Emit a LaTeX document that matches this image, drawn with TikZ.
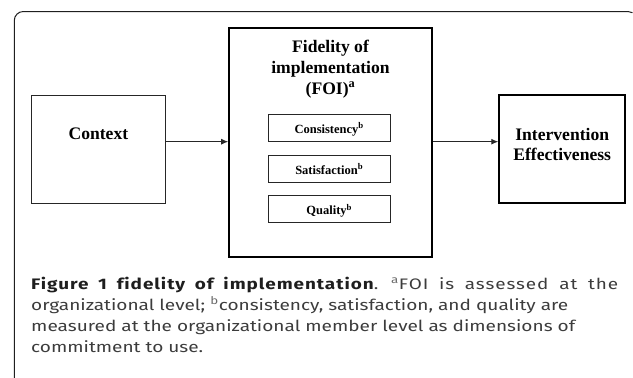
\documentclass[tikz,border=0pt]{standalone}
\usepackage{fontspec}
\setmainfont{Liberation Serif}
\newfontfamily\capfont{Fira Sans}
\newfontfamily\capfontls{Fira Sans}[LetterSpace=5, WordSpace=1.8, Ligatures=NoCommon]
\usetikzlibrary{arrows.meta}
\definecolor{captext}{HTML}{3C3C3C}
\definecolor{captitle}{HTML}{1E1E1E}
\definecolor{capsup}{HTML}{6A6A6A}
\newlength\capw
\newcommand\capsz{\capfont\fontsize{15.2}{20}\selectfont}
\newcommand\capszls{\capfontls\fontsize{15.2}{20}\selectfont}
\begin{document}
\settowidth\capw{\capsz measured at the organizational member level as dimensions of}%
\pgfmathsetmacro\capfac{544/\capw}%
\begin{tikzpicture}[x=1pt,y=-1pt,
  frame/.style={draw=black!88, line width=1pt},
  thinbox/.style={draw=black!85, line width=1pt, inner sep=0pt},
  thickbox/.style={draw=black, line width=2.2pt, inner sep=0pt},
  bigtext/.style={font=\fontsize{17.6}{21}\selectfont\bfseries, inner sep=0pt, anchor=base},
  smallbox/.style={thinbox, minimum width=121.7pt, minimum height=27pt,
     font=\fontsize{12.5}{14}\selectfont\bfseries, text height=11.2pt, text depth=0pt},
  conn/.style={draw=black!85, line width=1pt, -{Latex[length=7pt,width=6pt]}},
  capline/.style={font=\capsz, text=captext, inner sep=0pt, anchor=base west}
]
\useasboundingbox (0,0) rectangle (633,378);
% outer frame
\draw[frame] (14.3,378) -- (14.3,20.5) arc[start angle=180,end angle=270,radius=9]
  -- (628,11.5) arc[start angle=270,end angle=300,radius=9];
% boxes
\node[thinbox, minimum width=134.7pt, minimum height=108.3pt] (ctx) at (98.4,149.2) {};
\node[thickbox, minimum width=202.4pt, minimum height=229pt] (foi) at (330.5,142.8) {};
\node[thickbox, minimum width=125.7pt, minimum height=108.3pt] (eff) at (562.2,149.2) {};
% labels
\node[bigtext] (ctxl) at (98.4,139.3) {Context};
\node[bigtext] (foil1) at (330.5,52.3) {Fidelity of};
\node[bigtext] (foil2) at (330.5,73) {implementation};
\node[bigtext] (foil3) at (330.5,94) {(FOI)\textsuperscript{a}};
\node[bigtext] (effl1) at (562.2,140) {Intervention};
\node[bigtext] (effl2) at (562.2,160) {Effectiveness};
% inner boxes
\node[smallbox] (cons) at (329.2,127.7) {Consistency\textsuperscript{b}};
\node[smallbox] (sat) at (329.2,168.7) {Satisfaction\textsuperscript{b}};
\node[smallbox] (qual) at (329.2,209.2) {Quality\textsuperscript{b}};
% connectors
\draw[conn] (ctx.east |- 0,141.7) coordinate (c1) -- (foi.west |- c1);
\draw[conn] (foi.east |- 0,141.7) coordinate (c2) -- (eff.west |- c2);
% caption
\node[capline] (cap1) at (31,289) {\resizebox{587pt}{\height}{\capszls\textcolor{captitle}{\bfseries Figure 1 fidelity of implementation}. \textcolor{capsup}{\textsuperscript{a}}FOI is assessed at the}};
\node[capline] (cap2) at (31,310) {\scalebox{\capfac}[1]{organizational level; \textcolor{capsup}{\textsuperscript{b}}consistency, satisfaction, and quality are}};
\node[capline] (cap3) at (31,331) {\scalebox{\capfac}[1]{measured at the organizational member level as dimensions of}};
\node[capline] (cap4) at (31,352) {\scalebox{\capfac}[1]{commitment to use.}};
\end{tikzpicture}
\end{document}
